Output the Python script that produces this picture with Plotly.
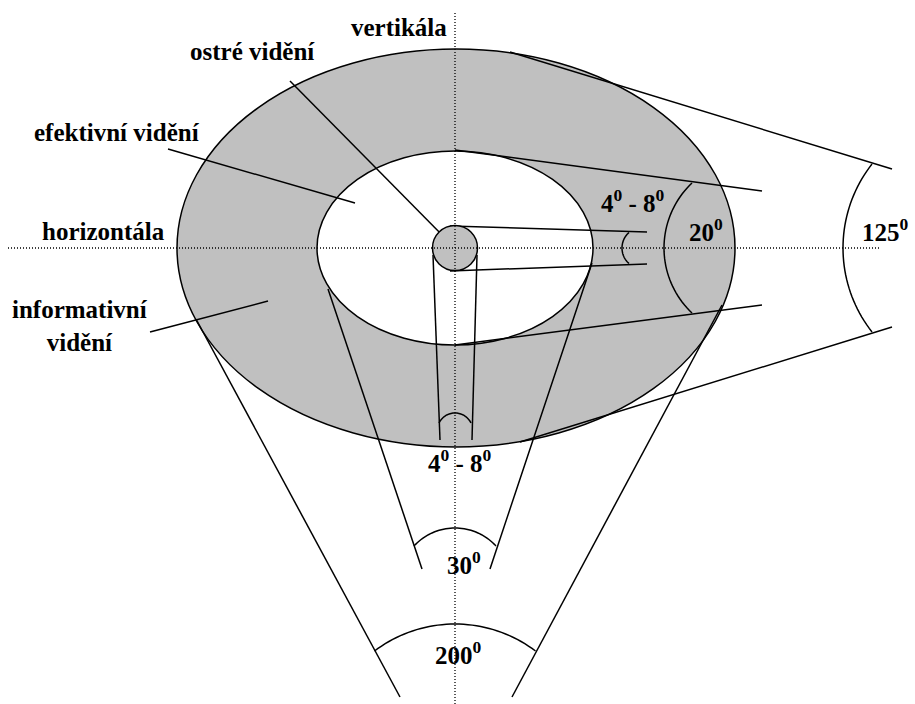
import math
import plotly.graph_objects as go

# ---------------- data ----------------
region_names = ["vertikála", "ostré vidění", "efektivní vidění", "horizontála", "informativní<br>vidění"]
sharp_angle_range = [4, 8]          # ostré vidění (horizontal and vertical)
effective_angles = [20, 30]         # efektivní vidění: horizontal, vertical
informative_angles = [125, 200]     # informativní vidění: horizontal, vertical

# ---------------- geometry (pixel space of the drawing) ----------------
CX, CY = 455, 248
OUTER = dict(cx=456, cy=248, rx=279, ry=199)
INNER = dict(cx=455, cy=248, rx=138, ry=97)
SHARP_R = 22.5

segments = [
    ((290, 81), (448, 241)),    # leader ostré
    ((168, 149), (355, 203)),   # leader efektivní
    ((150, 332), (268, 301)),   # leader informativní
    ((450, 226), (647, 232)),   # 4-8 horizontal
    ((450, 271), (647, 264)),
    ((433, 255), (440, 440)),   # 4-8 vertical
    ((477, 255), (472, 440)),
    ((455, 150), (762, 191)),   # 20
    ((455, 345), (762, 305)),
    ((510, 52), (892, 169)),    # 125
    ((520, 442), (892, 327)),
    ((328, 289), (422, 569)),   # 30
    ((592, 263), (490, 569)),
    ((196, 319), (400, 697)),   # 200
    ((722, 305), (512, 697)),
]
# arcs toward the right: (apex x, end x, half height)
right_arcs = [(622, 629, 15.5), (664, 692, 65), (843, 872, 84)]
# arcs toward the bottom: (apex y, end y, half width)
bottom_arcs = [(413, 423, 16), (528, 546, 41), (624, 651, 80.5)]

FONT = "Liberation Serif"
FS = 25


def deg(v):
    return f"<b>{v}<sup>0</sup></b>"


def arc_path(apex, end, half, horizontal):
    c = (apex ** 2 - end ** 2 - half ** 2) / (2 * (apex - end))
    r = c - apex
    tmax = math.asin(min(1.0, half / abs(r)))
    pts = []
    n = 40
    for i in range(n + 1):
        t = -tmax + 2 * tmax * i / n
        a = c - r * math.cos(t)
        b = r * math.sin(t) * (1 if r > 0 else -1)
        if horizontal:
            pts.append((a, CY + b))
        else:
            pts.append((CX + b, a))
    return "M " + " L ".join(f"{x:.2f},{y:.2f}" for x, y in pts)


shapes = []
line_style = dict(color="black", width=1.5)

# outer (informative) region
shapes.append(dict(type="circle", xref="x", yref="y",
                   x0=OUTER["cx"] - OUTER["rx"], x1=OUTER["cx"] + OUTER["rx"],
                   y0=OUTER["cy"] - OUTER["ry"], y1=OUTER["cy"] + OUTER["ry"],
                   fillcolor="#C0C0C0", line=line_style))
# inner (effective) region
shapes.append(dict(type="circle", xref="x", yref="y",
                   x0=INNER["cx"] - INNER["rx"], x1=INNER["cx"] + INNER["rx"],
                   y0=INNER["cy"] - INNER["ry"], y1=INNER["cy"] + INNER["ry"],
                   fillcolor="white", line=line_style))

for (p, q) in segments:
    shapes.append(dict(type="line", xref="x", yref="y", x0=p[0], y0=p[1], x1=q[0], y1=q[1],
                       line=line_style))

for a, e, h in right_arcs:
    shapes.append(dict(type="path", xref="x", yref="y", path=arc_path(a, e, h, True), line=line_style))
for a, e, h in bottom_arcs:
    shapes.append(dict(type="path", xref="x", yref="y", path=arc_path(a, e, h, False), line=line_style))

# sharp vision disc
shapes.append(dict(type="circle", xref="x", yref="y",
                   x0=CX - SHARP_R, x1=CX + SHARP_R, y0=CY - SHARP_R, y1=CY + SHARP_R,
                   fillcolor="#C0C0C0", line=line_style))

# axes (dotted)
dot = dict(color="black", width=1.3, dash="1px,2px")
shapes.append(dict(type="line", xref="x", yref="y", x0=CX, x1=CX, y0=13, y1=704, line=dot))
shapes.append(dict(type="line", xref="x", yref="y", x0=8, x1=880, y0=CY, y1=CY, line=dot))

ann_pos = [(399, 27), (252, 51), (117, 132), (103, 231), (80, 326)]
annotations = []
for name, (x, y) in zip(region_names, ann_pos):
    annotations.append(dict(x=x, y=y, xref="x", yref="y", text=f"<b>{name}</b>",
                            showarrow=False, xanchor="center", yanchor="middle",
                            font=dict(family=FONT, size=FS, color="black")))

sharp_txt = f"{deg(sharp_angle_range[0])}<b> - </b>{deg(sharp_angle_range[1])}"
deg_labels = [
    (sharp_txt, 633, 201),
    (sharp_txt, 460, 461),
    (deg(effective_angles[0]), 706, 230),
    (deg(effective_angles[1]), 464, 563),
    (deg(informative_angles[0]), 885, 230),
    (deg(informative_angles[1]), 458, 653),
]
for txt, x, y in deg_labels:
    annotations.append(dict(x=x, y=y, xref="x", yref="y", text=txt, showarrow=False,
                            xanchor="center", yanchor="middle",
                            font=dict(family=FONT, size=FS, color="black")))

fig = go.Figure()
fig.add_trace(go.Scatter(x=[0, 915], y=[0, 704], mode="markers", marker=dict(opacity=0),
                         hoverinfo="skip", showlegend=False))
fig.update_layout(
    width=915, height=704, margin=dict(l=0, r=0, t=0, b=0),
    paper_bgcolor="white", plot_bgcolor="white",
    font=dict(family=FONT),
    xaxis=dict(range=[0, 915], visible=False, fixedrange=True),
    yaxis=dict(range=[704, 0], visible=False, fixedrange=True),
    shapes=shapes, annotations=annotations, showlegend=False,
)
fig.write_html("out.html", config={"displayModeBar": False},
               post_script="document.body.style.margin='0';document.body.style.overflow='hidden';")
